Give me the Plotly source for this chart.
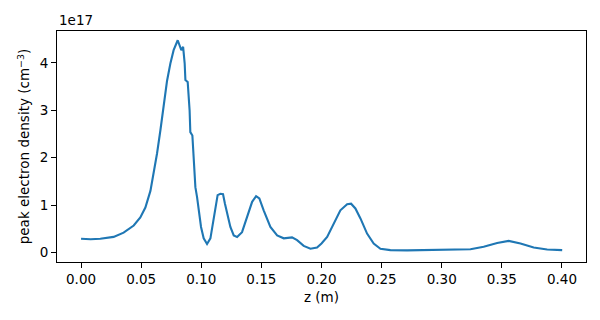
import plotly.graph_objects as go

# z positions (m)
z = [0.000, 0.008, 0.016, 0.0271, 0.0354, 0.0438, 0.0493, 0.0535, 0.0577, 0.0604,
     0.0632, 0.0660, 0.0687, 0.0715, 0.0743, 0.0770, 0.0804, 0.0820, 0.0834, 0.0849,
     0.0862, 0.0868, 0.0887, 0.0903, 0.0909, 0.0926, 0.0937, 0.0951, 0.0965, 0.0978,
     0.0998, 0.1020, 0.1048, 0.1076, 0.1098, 0.1117, 0.1136, 0.1159, 0.1181, 0.1197,
     0.1223, 0.1242, 0.1270, 0.1298, 0.1339, 0.1381, 0.1423, 0.1456, 0.1483, 0.1519,
     0.1575, 0.1631, 0.1686, 0.1755, 0.1797, 0.1852, 0.1908, 0.1963, 0.2000, 0.2047,
     0.2101, 0.2157, 0.2213, 0.2246, 0.2282, 0.2324, 0.2379, 0.2434, 0.2490, 0.2573,
     0.2712, 0.2850, 0.2989, 0.3100, 0.3239, 0.3349, 0.3461, 0.3557, 0.3655, 0.3765,
     0.3877, 0.4002]
# peak electron density in units of 1e17 cm^-3
density = [0.29, 0.28, 0.29, 0.33, 0.42, 0.57, 0.74, 0.95, 1.30, 1.66,
           2.09, 2.58, 3.12, 3.62, 3.99, 4.27, 4.48, 4.37, 4.27, 4.34,
           3.99, 3.64, 3.60, 3.00, 2.54, 2.47, 1.88, 1.38, 1.17, 0.89,
           0.54, 0.30, 0.18, 0.30, 0.61, 0.86, 1.21, 1.24, 1.23, 1.03,
           0.72, 0.54, 0.36, 0.33, 0.43, 0.75, 1.07, 1.19, 1.14, 0.89,
           0.54, 0.36, 0.30, 0.32, 0.26, 0.14, 0.08, 0.105, 0.19, 0.33,
           0.61, 0.89, 1.02, 1.03, 0.93, 0.72, 0.40, 0.19, 0.08, 0.05,
           0.045, 0.05, 0.055, 0.05, 0.07, 0.12, 0.20, 0.245, 0.19, 0.105,
           0.065, 0.05]

x_ticks = [0.00, 0.05, 0.10, 0.15, 0.20, 0.25, 0.30, 0.35, 0.40]
y_ticks = [0, 1, 2, 3, 4]

font = dict(family="DejaVu Sans", size=13.5, color="black")

fig = go.Figure()
fig.add_trace(go.Scatter(x=z, y=density, mode="lines",
                         line=dict(color="#1f77b4", width=2.1, shape="linear")))

fig.update_layout(
    width=600, height=320,
    margin=dict(l=57, r=14, t=31, b=58),
    paper_bgcolor="white", plot_bgcolor="white",
    showlegend=False, font=font,
    xaxis=dict(range=[-0.02, 0.42], tickvals=x_ticks,
               ticktext=[f"{v:.2f}" for v in x_ticks],
               showline=True, linecolor="black", linewidth=1, mirror=True,
               ticks="outside", ticklen=5, tickcolor="black", showgrid=False,
               zeroline=False,
               title=dict(text="z (m)", font=font, standoff=6)),
    yaxis=dict(range=[-0.2, 4.675], tickvals=y_ticks,
               ticktext=[str(v) for v in y_ticks],
               showline=True, linecolor="black", linewidth=1, mirror=True,
               ticks="outside", ticklen=5, tickcolor="black", showgrid=False,
               zeroline=False,
               title=dict(text="peak electron density (cm<sup>−3</sup>)", font=font, standoff=6)),
)
fig.add_annotation(text="1e17", xref="paper", yref="paper", x=0, y=1,
                   xanchor="left", yanchor="bottom", showarrow=False,
                   font=font, yshift=1)

fig.write_html("out.html")
